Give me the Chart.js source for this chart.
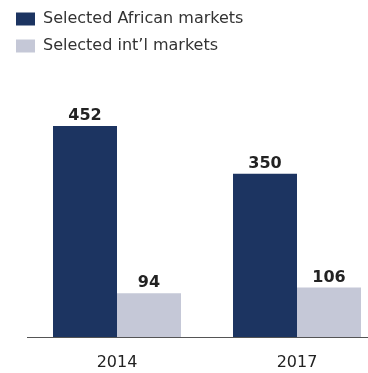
<!DOCTYPE html>
<html>
<head>
<meta charset="utf-8">
<script src="https://cdn.jsdelivr.net/npm/chart.js@4"></script>
<style>
  html, body { margin: 0; padding: 0; overflow: hidden; background: #ffffff; }
  #wrap { position: relative; width: 390px; height: 373px; }
</style>
</head>
<body>
<div id="wrap"><canvas id="c"></canvas></div>
<script>
const categories = ['2014', '2017'];
const seriesNames = ['Selected African markets', "Selected int\u2019l markets"];
const africanValues = [452, 350];
const intlValues = [94, 106];

const FONT = '"DejaVu Sans", sans-serif';

const valueLabels = {
  id: 'valueLabels',
  afterDatasetsDraw(chart) {
    const ctx = chart.ctx;
    ctx.save();
    ctx.font = 'bold 16px ' + FONT;
    ctx.fillStyle = '#222222';
    ctx.textAlign = 'center';
    ctx.textBaseline = 'alphabetic';
    chart.data.datasets.forEach((ds, di) => {
      const meta = chart.getDatasetMeta(di);
      meta.data.forEach((bar, i) => {
        ctx.fillText(String(ds.data[i]), bar.x, bar.y - 6);
      });
    });
    ctx.restore();
  }
};

new Chart(document.getElementById('c'), {
  type: 'bar',
  data: {
    labels: categories,
    datasets: [
      { label: seriesNames[0], data: africanValues, backgroundColor: '#1c3461',
        categoryPercentage: 0.711, barPercentage: 1.0 },
      { label: seriesNames[1], data: intlValues, backgroundColor: '#c5c8d7',
        categoryPercentage: 0.711, barPercentage: 1.0 }
    ]
  },
  options: {
    responsive: true,
    maintainAspectRatio: false,
    animation: false,
    layout: { padding: { left: 5, right: 3, top: 0, bottom: 2 } },
    plugins: {
      legend: {
        position: 'top',
        align: 'start',
        labels: {
          boxWidth: 19,
          boxHeight: 13,
          padding: 11,
          color: '#333333',
          font: { family: FONT, size: 16 }
        }
      },
      tooltip: { enabled: false }
    },
    scales: {
      x: {
        grid: { display: false, drawTicks: false },
        border: { display: true, color: '#555555', width: 1 },
        ticks: { color: '#222222', padding: 16, font: { family: FONT, size: 16 } },
        afterFit(scale) { scale.height = 34; }
      },
      y: {
        min: 0,
        max: 585,
        display: true,
        grid: { display: false, drawTicks: false },
        border: { display: false },
        ticks: { display: false },
        afterFit(scale) { scale.width = 22; }
      }
    }
  },
  plugins: [valueLabels]
});
</script>
</body>
</html>
